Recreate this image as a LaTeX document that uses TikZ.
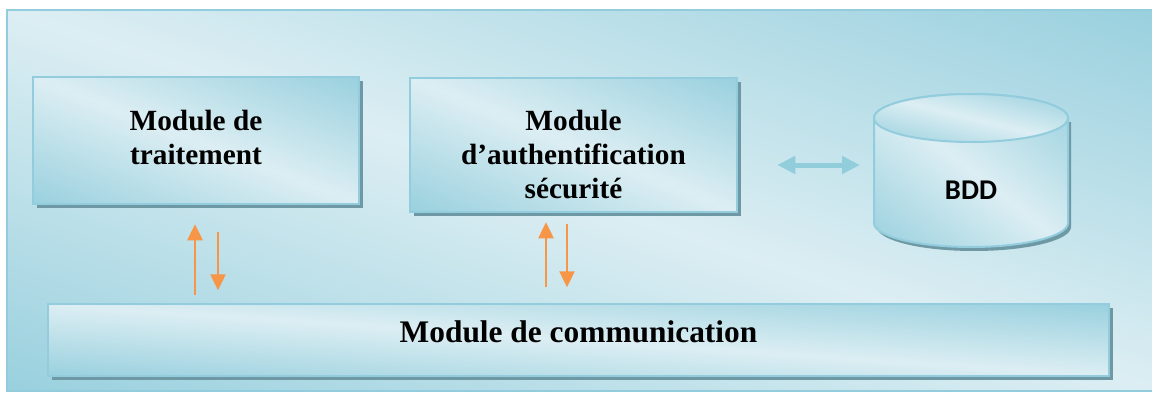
\documentclass[tikz,border=0pt]{standalone}
\usepackage{fontspec}
\setmainfont{Liberation Serif}
\newfontfamily\calibri{Carlito}
\usetikzlibrary{arrows.meta,shadows}

\definecolor{aquadark}{RGB}{146,205,220}
\definecolor{aquaedge}{RGB}{147,205,221}
\definecolor{shadowblue}{RGB}{110,152,164}
\definecolor{floworange}{RGB}{247,150,70}

% light along the TL-BR diagonal, dark towards the TR and BL corners
\pgfdeclarefunctionalshading{aquaband}{\pgfpointorigin}{\pgfpoint{100bp}{100bp}}{}{
  add 100 sub 100 div abs
  1.8 mul dup 1 gt {pop 1} if
  dup dup
  0.2902 mul 0.8627 exch sub
  exch
  0.1294 mul 0.9333 exch sub
  3 -1 roll
  0.0902 mul 0.9529 exch sub
}

\begin{document}
\begin{tikzpicture}[x=1pt,y=1pt,
  aquafill/.style={shade, shading=aquaband},
  module/.style={draw=aquaedge, line width=2.5pt, aquafill, align=center,
    font=\fontsize{29.3}{34}\selectfont\bfseries,
    drop shadow={shadow xshift=4pt, shadow yshift=-4pt, fill=shadowblue, opacity=1}},
  flow/.style={floworange, line width=2.5pt, -{Triangle[width=15pt,length=16pt]}},
  dbflow/.style={aquadark, line width=5pt, {Triangle[width=17pt,length=18pt]}-{Triangle[width=17pt,length=18pt]}},
]
\useasboundingbox (0,0) rectangle (1152,392);

% background frame
\path[draw=aquaedge, line width=2pt, aquafill] (7,1) rectangle (1158,382);

\node[module, minimum width=326pt, minimum height=127pt] (treat) at (196,251.5) {Module de\\traitement\rule[-7pt]{0pt}{0pt}};
\node[module, minimum width=327pt, minimum height=134pt] (auth) at (573.5,247) {\rule{0pt}{40pt}Module\\d’authentification\\sécurité};
\node[module, minimum width=1061pt, minimum height=72pt, text depth=16pt,
  font=\fontsize{31.4}{36}\selectfont\bfseries] (comm) at (578.5,52) {Module de communication};

% database
\fill[shadowblue, shift={(3,-4)}] (874,274) -- (874,169) arc[start angle=180, end angle=360, x radius=97, y radius=24] -- (1068,274) -- cycle;
\path[draw=aquaedge, line width=2pt, aquafill] (874,274) -- (874,169) arc[start angle=180, end angle=360, x radius=97, y radius=24]
  -- (1068,274) arc[start angle=0, end angle=180, x radius=97, y radius=24] -- cycle;
\path[draw=aquaedge, line width=2pt, aquafill] (971,274) ellipse[x radius=97, y radius=24];
\node[font=\calibri\fontsize{28.6}{34}\selectfont\bfseries] (db) at (971,202) {BDD};
\coordinate (dbside) at (874,227);

\draw[dbflow] ([shift={(39,-20)}]auth.east) -- ([xshift=-14pt]dbside);

\draw[flow] ([shift={(-1,-90)}]treat.south) -- ([shift={(-1,-19)}]treat.south);
\draw[flow] ([shift={(22,-27)}]treat.south) -- ([shift={(22,-85)}]treat.south);
\draw[flow] ([shift={(-27.5,-74)}]auth.south) -- ([shift={(-27.5,-9)}]auth.south);
\draw[flow] ([shift={(-6.5,-11)}]auth.south) -- ([shift={(-6.5,-74)}]auth.south);

\end{tikzpicture}
\end{document}
